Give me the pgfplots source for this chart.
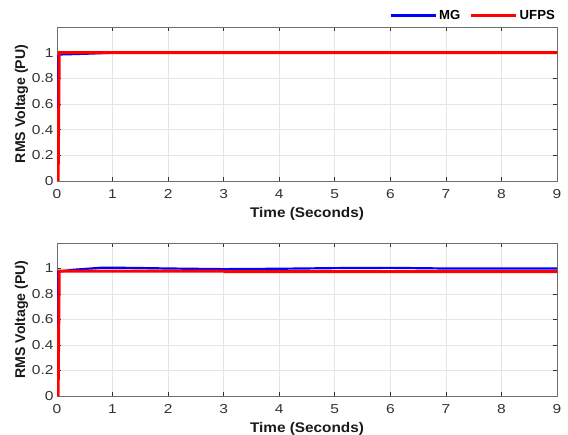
\documentclass[border=0pt]{standalone}
\usepackage{fontspec}
\setmainfont{Liberation Sans}
\newfontfamily\widefont[FakeStretch=1.2]{Liberation Sans}
\newfontfamily\labelfont[FakeStretch=1.1]{Liberation Sans}
\usepackage{pgfplots}
\pgfplotsset{compat=1.18}
\definecolor{mgblue}{HTML}{0000FF}
\definecolor{ufpsred}{HTML}{FF0000}
\definecolor{axgray}{HTML}{6E6E6E}

\pgfplotsset{
  rmsaxis/.style={
    scale only axis,
    width=500bp,
    xmin=0, xmax=9, ymin=0, ymax=1.2,
    xtick={0,1,...,9},
    ytick={0,0.2,0.4,0.6,0.8,1},
    grid=major,
    major grid style={gray!20, line width=0.6pt},
    axis line style={axgray, line width=0.8pt},
    tick style={black!80, line width=0.6pt},
    tick align=inside,
    major tick length=4bp,
    xtick pos=both, ytick pos=both,
    /pgf/number format/assume math mode=true,
    ticklabel style={font=\widefont\fontsize{13}{15}\selectfont, text=black!80},
    xticklabel style={yshift=-5bp},
    xlabel={\bfseries Time (Seconds)},
    ylabel={\bfseries RMS Voltage (PU)},
    xlabel style={font=\labelfont\fontsize{14}{16}\selectfont, text=black!90, yshift=-2bp},
    ylabel style={font=\fontsize{14.2}{16}\selectfont, text=black!90, yshift=-3bp},
  }
}

\begin{document}
\begin{tikzpicture}
\useasboundingbox (0bp,0bp) rectangle (568bp,435bp);

\begin{axis}[rmsaxis, at={(57bp,254bp)}, anchor=south west, height=154bp,
  legend style={at={(1,1.025)}, anchor=south east, draw=none, fill=none,
    font=\fontsize{13.2}{15}\selectfont\bfseries, legend columns=2,
    inner sep=0pt,
    /tikz/every even column/.append style={column sep=8bp}},
  legend image code/.code={\draw[#1, line width=2.5pt] (0,0) -- (45bp,0);}]
\addplot[mgblue, line width=2pt] coordinates {
  (0,0) (0.02,0.975) (0.05,0.985) (0.3,0.988) (0.6,0.992) (0.9,0.997)
  (1.2,1.0) (3.2,1.0) (3.35,0.998) (3.5,1.0) (9,1.0)
};
\addlegendentry{MG}
\addplot[ufpsred, line width=3pt] coordinates {
  (0.02,0) (0.04,1.0) (9,1.0)
};
\addlegendentry{UFPS}
\end{axis}

\begin{axis}[rmsaxis, at={(57bp,39bp)}, anchor=south west, height=153bp]
\addplot[mgblue, line width=2.2pt] coordinates {
  (0,0) (0.02,0.975) (0.3,0.99) (0.8,1.006) (1.3,1.005) (2,1.0)
  (3,0.995) (4,0.998) (5,1.003) (6,1.005) (7,1.0) (8,1.0) (9,1.0)
};
\addplot[ufpsred, line width=3pt] coordinates {
  (0.02,0) (0.04,0.98) (3,0.98) (3.02,0.975) (9,0.975)
};
\end{axis}
\end{tikzpicture}
\end{document}
